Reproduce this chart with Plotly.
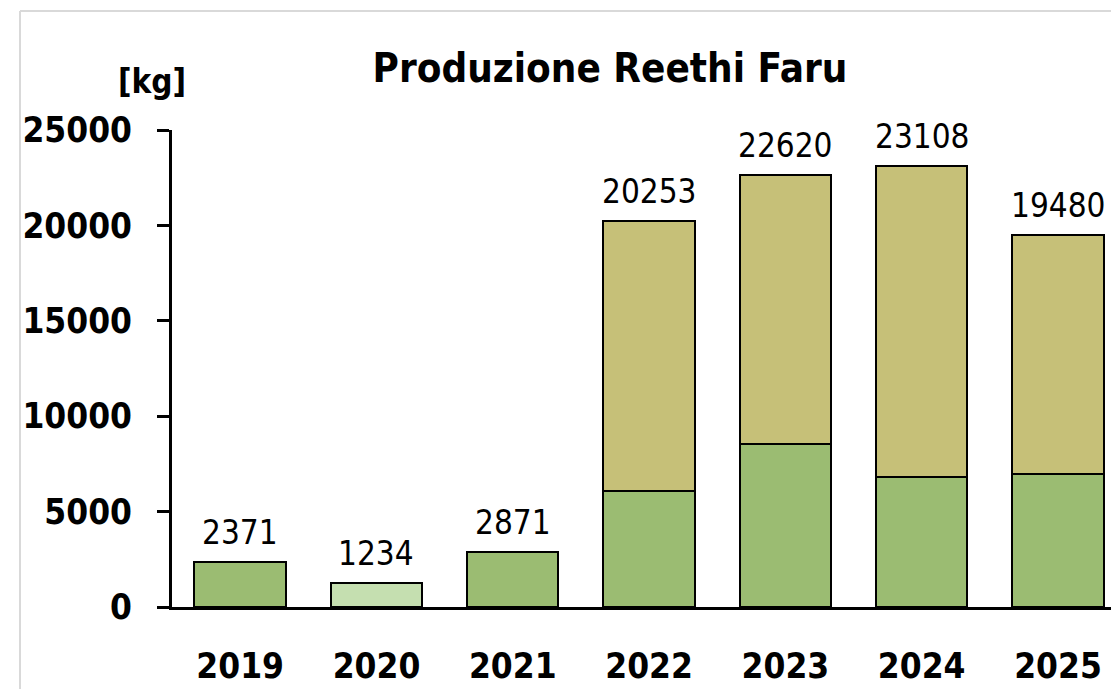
import plotly.graph_objects as go

years = ["2019", "2020", "2021", "2022", "2023", "2024", "2025"]
totals = [2371, 1234, 2871, 20253, 22620, 23108, 19480]
lower = [2371, 1234, 2871, 6095, 8543, 6829, 6971]
upper = [0, 0, 0, 14158, 14077, 16279, 12509]
y_ticks = [0, 5000, 10000, 15000, 20000, 25000]

FONT = "DejaVu Sans Condensed, DejaVu Sans, sans-serif"

lower_colors = ["#9bbc72", "#c5dfb0", "#9bbc72", "#9bbc72", "#9bbc72", "#9bbc72", "#9bbc72"]

fig = go.Figure()
fig.add_trace(go.Bar(
    x=years, y=lower, width=0.67,
    marker=dict(color=lower_colors, line=dict(color="black", width=2)),
    hoverinfo="x+y", showlegend=False,
))
fig.add_trace(go.Bar(
    x=years, y=upper, width=0.67,
    marker=dict(color="#c6c078", line=dict(color="black", width=2)),
    hoverinfo="x+y", showlegend=False,
))

W, H = 1111, 689
L, R, T, B = 172, 0, 130, 82

annotations = [
    dict(x=i, y=tot, xref="x", yref="y", text=str(tot), showarrow=False,
         xanchor="center", yanchor="bottom", yshift=8,
         font=dict(family=FONT, size=33, color="black"))
    for i, tot in enumerate(totals)
]
annotations.append(dict(text="<b>[kg]</b>", xref="paper", yref="paper",
                        x=(152 - L) / (W - L - R), y=1 + (T - 81) / (H - T - B),
                        xanchor="center", yanchor="middle", showarrow=False,
                        font=dict(family=FONT, size=33, color="black")))

fig.update_layout(
    width=W, height=H,
    margin=dict(l=L, r=R, t=T, b=B, pad=0, autoexpand=False),
    barmode="stack",
    plot_bgcolor="white", paper_bgcolor="white",
    font=dict(family=FONT, color="black"),
    title=dict(text="<b>Produzione Reethi Faru</b>", x=610 / W, xanchor="center",
               y=1 - 68 / H, yanchor="middle",
               font=dict(family=FONT, size=40, color="black")),
    xaxis=dict(type="category", range=[-0.5, 6.389], showgrid=False, showline=True,
               linecolor="black", linewidth=3, ticks="", tickvals=years,
               ticktext=["<b>%s</b>" % y for y in years],
               tickfont=dict(family=FONT, size=35, color="black"),
               ticklabelstandoff=26, automargin=False, fixedrange=True),
    yaxis=dict(range=[0, 25000], tickvals=y_ticks, ticktext=["<b>%d</b>" % v for v in y_ticks],
               showgrid=False, showline=True,
               linecolor="black", linewidth=3, ticks="outside", ticklen=12, tickwidth=3,
               tickcolor="black", tickfont=dict(family=FONT, size=35, color="black"),
               ticklabelstandoff=18, zeroline=False, automargin=False, fixedrange=True),
    annotations=annotations,
    shapes=[
        dict(type="line", xref="paper", yref="paper",
             x0=(20 - L) / (W - L - R), x1=(20 - L) / (W - L - R),
             y0=1 + (T - 11) / (H - T - B), y1=-(B) / (H - T - B),
             line=dict(color="#d9d9d9", width=2)),
        dict(type="line", xref="paper", yref="paper",
             x0=(20 - L) / (W - L - R), x1=1.0,
             y0=1 + (T - 11) / (H - T - B), y1=1 + (T - 11) / (H - T - B),
             line=dict(color="#d9d9d9", width=2)),
    ],
)

fig.write_html("out.html", config={"displayModeBar": False},
               post_script="document.body.style.margin='0';document.body.style.overflow='hidden';")
